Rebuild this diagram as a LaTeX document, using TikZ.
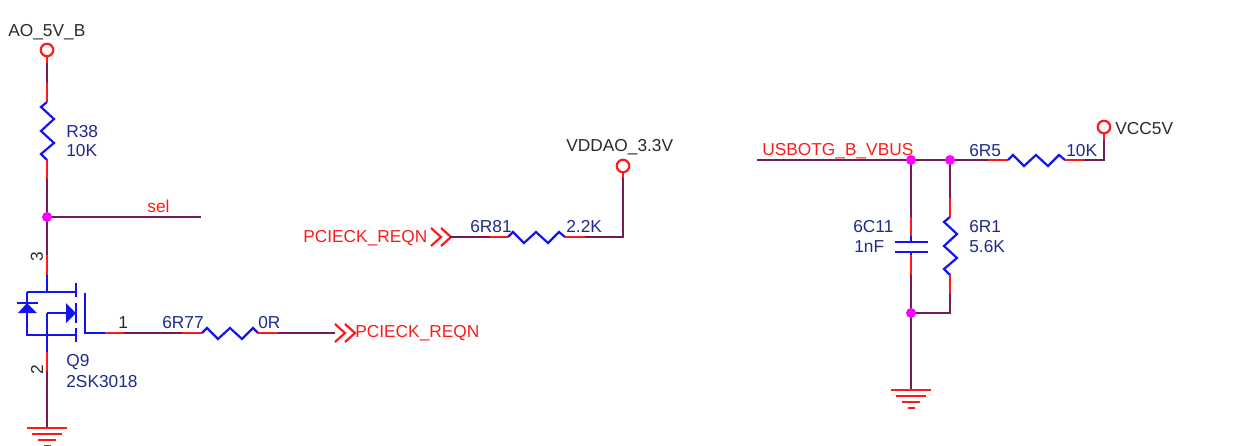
\documentclass[tikz,border=0pt]{standalone}
\usepackage{fontspec}
\setmainfont{Liberation Sans}
\definecolor{wirecol}{HTML}{741B58}
\definecolor{stubcol}{HTML}{FF1A1A}
\definecolor{bodycol}{HTML}{1414F0}
\definecolor{refcol}{HTML}{1F2A8C}
\definecolor{namecol}{HTML}{2A2A2A}
\definecolor{dotcol}{HTML}{FF00FF}
\tikzset{
	wire/.style={draw=wirecol,line width=1.25pt},
	stub/.style={draw=stubcol,line width=1.25pt},
	body/.style={draw=bodycol,line width=1.25pt},
	pincirc/.style={circle,draw=stubcol,line width=1.25pt,minimum size=0.25cm,inner sep=0pt},
	dot/.style={circle,fill=dotcol,minimum size=0.2cm,inner sep=0pt},
	lbl/.style={font=\fontsize{9.85}{12}\selectfont,inner sep=0pt,anchor=base west},
	reflbl/.style={lbl,text=refcol},
	netlbl/.style={lbl,text=stubcol},
	namelbl/.style={lbl,text=namecol},
	pinnum/.style={lbl,text=namecol,anchor=center,rotate=90}
}
\newcommand{\reshoriz}[2]{\draw[body] (#1)--++(5,-5)--++(11,11)--++(12,-11)--++(12,11)--++(11,-11)--(#2);}
\newcommand{\resvert}[2]{\draw[body] (#1)--++(-6,5)--++(13,12)--++(-13,12)--++(13,12)--++(-13,11)--(#2);}
\newcommand{\chev}[1]{\foreach \d in {0,10}{\draw[stub] ([shift={(\d,-9)}]#1)--([shift={(\d+10,0)}]#1)--([shift={(\d,9)}]#1);}}
\newcommand{\gnd}[1]{\foreach \d/\w in {0/20,6/15,12/9,18/3.5}{\draw[stub] ([shift={(-\w,\d)}]#1)--([shift={(\w,\d)}]#1);}}
\begin{document}
\begin{tikzpicture}[x=0.02cm,y=-0.02cm]
	\useasboundingbox (0,0) rectangle (1258,446);
	% named points of the wiring
	\foreach \n/\x/\y in {
		a1/47/63,a2/47/83,a3/47/102,a4/47/160,a5/47/179,a6/201/217,a7/47/255,a8/47/275,a9/47/292,
		q1/27/292,q2/76/292,q3/27/335,q4/76/335,q5/47/313,q6/47/352,q7/47/371,q8/47/428,q9/47/335,
		g1/85/293,g2/85/333,g3/105/333,g4/124/333,g5/182/333,g6/202/333,g7/258/333,g8/278/333,g9/335/333,
		m1/450/237,m2/490/237,m3/508/237,m4/565/237,m5/585/237,m6/623/237,m7/623/178,
		u1/757/160,u2/988/160,u3/1008/160,u4/1065/160,u5/1084/160,u6/1104/160,u7/1104/140,
		c1/911/217,c2/911/236,c3/911/242,c4/911/252,c5/911/255,c6/911/275,c7/911/390,
		r1/950/198,r2/950/217,r3/950/275,r4/950/294,r5/950/313
	}{
		\coordinate (\n) at (\x,\y);
	}
	\coordinate (chevl) at (431,237);
	\node[pincirc] (pinao) at (47,50){};
	\node[pincirc] (pinvdd) at (623,166){};
	\node[pincirc] (pinvcc) at (1104,127){};

	% AO_5V_B, R38 and sel
	\draw[stub] (pinao)--(a1);
	\draw[wire] (a1)--(a2);
	\draw[stub] (a2)--(a3);
	\resvert{a3}{a4}
	\draw[stub] (a4)--(a5);
	\draw[wire] (a5)--(47,217)coordinate(jselc);
	\draw[wire] (jselc)--(a6);
	\draw[wire] (jselc)--(a7);
	\draw[stub] (a7)--(a8);

	% Q9
	\draw[body] (a8)--(a9);
	\draw[body] (q1)--(q2);
	\draw[body] (q1)--(q3)--(q4);
	\draw[body] (q5)--(q6);
	\draw[body] (q5)--++(19,0);
	\fill[bodycol] (q5)++(19,-10)--++(0,20)--++(10,-10)--cycle;
	\foreach \a/\b in {283/297,303/323,328/342}{
		\draw[body] (76,\a)--(76,\b);
	}
	\draw[body] (17,303)--(38,303);
	\fill[bodycol] (27,303)--(18,313)--(37,313)--cycle;
	\draw[body] (g1)--(g2)--(g3);
	\draw[stub] (q6)--(q7);
	\draw[wire] (q7)--(q8);
	\gnd{q8}

	% 6R77
	\draw[stub] (g3)--(g4);
	\draw[wire] (g4)--(g5);
	\draw[stub] (g5)--(g6);
	\reshoriz{g6}{g7}
	\draw[stub] (g7)--(g8);
	\draw[wire] (g8)--(g9);
	\chev{g9}

	% 6R81
	\chev{chevl}
	\draw[wire] (m1)--(m2);
	\draw[stub] (m2)--(m3);
	\reshoriz{m3}{m4}
	\draw[stub] (m4)--(m5);
	\draw[wire] (m5)--(m6)--(m7);
	\draw[stub] (m7)--(pinvdd);

	% USBOTG_B_VBUS, 6R5
	\coordinate (jbusc) at (911,160);
	\coordinate (jresc) at (950,160);
	\coordinate (jgndc) at (911,313);
	\draw[wire] (u1)--(jbusc);
	\draw[wire] (jbusc)--(jresc);
	\draw[wire] (jresc)--(u2);
	\draw[stub] (u2)--(u3);
	\reshoriz{u3}{u4}
	\draw[stub] (u4)--(u5);
	\draw[wire] (u5)--(u6)--(u7);
	\draw[stub] (u7)--(pinvcc);

	% 6C11
	\draw[wire] (jbusc)--(c1);
	\draw[stub] (c1)--(c2);
	\draw[body] (c2)--(c3);
	\draw[body] (895,242)--(928,242);
	\draw[body] (895,252)--(928,252);
	\draw[body] (c4)--(c5);
	\draw[stub] (c5)--(c6);
	\draw[wire] (c6)--(jgndc);
	\draw[wire] (jgndc)--(c7);
	\gnd{c7}

	% 6R1
	\draw[wire] (jresc)--(r1);
	\draw[stub] (r1)--(r2);
	\resvert{r2}{r3}
	\draw[stub] (r3)--(r4);
	\draw[wire] (r4)--(r5)--(jgndc);

	\node[dot] (jsel) at (jselc){};
	\node[dot] (jbus) at (jbusc){};
	\node[dot] (jres) at (jresc){};
	\node[dot] (jgnd) at (jgndc){};

	\node[namelbl] (lao) at (8,37){AO\_5V\_B};
	\node[reflbl] (lr38) at (66,137){R38};
	\node[reflbl] (lr38v) at (66,156){10K};
	\node[netlbl] (lsel) at (147,213){sel};
	\node[pinnum] (lp3) at (37,257){3};
	\node[pinnum] (lp2) at (37,370){2};
	\node[namelbl] (lp1) at (118,328){1};
	\node[reflbl] (lq9) at (66,366){Q9};
	\node[reflbl] (lq9v) at (66,387){2SK3018};
	\node[reflbl] (lr77) at (162,328){6R77};
	\node[reflbl] (lr77v) at (258,328){0R};
	\node[netlbl] (lreqa) at (355,337){PCIECK\_REQN};
	\node[netlbl] (lreqb) at (303,242){PCIECK\_REQN};
	\node[reflbl] (lr81) at (470,233){6R81};
	\node[reflbl] (lr81v) at (566,233){2.2K};
	\node[namelbl] (lvdd) at (566,152){VDDAO\_3.3V};
	\node[netlbl] (lusb) at (762,155){USBOTG\_B\_VBUS};
	\node[reflbl] (lr5) at (969,156){6R5};
	\node[reflbl] (lr5v) at (1066,156){10K};
	\node[namelbl] (lvcc) at (1115,134){VCC5V};
	\node[reflbl] (lc11) at (853,233){6C11};
	\node[reflbl] (lc11v) at (854,252){1nF};
	\node[reflbl] (lr1) at (969,233){6R1};
	\node[reflbl] (lr1v) at (969,252){5.6K};
\end{tikzpicture}
\end{document}
